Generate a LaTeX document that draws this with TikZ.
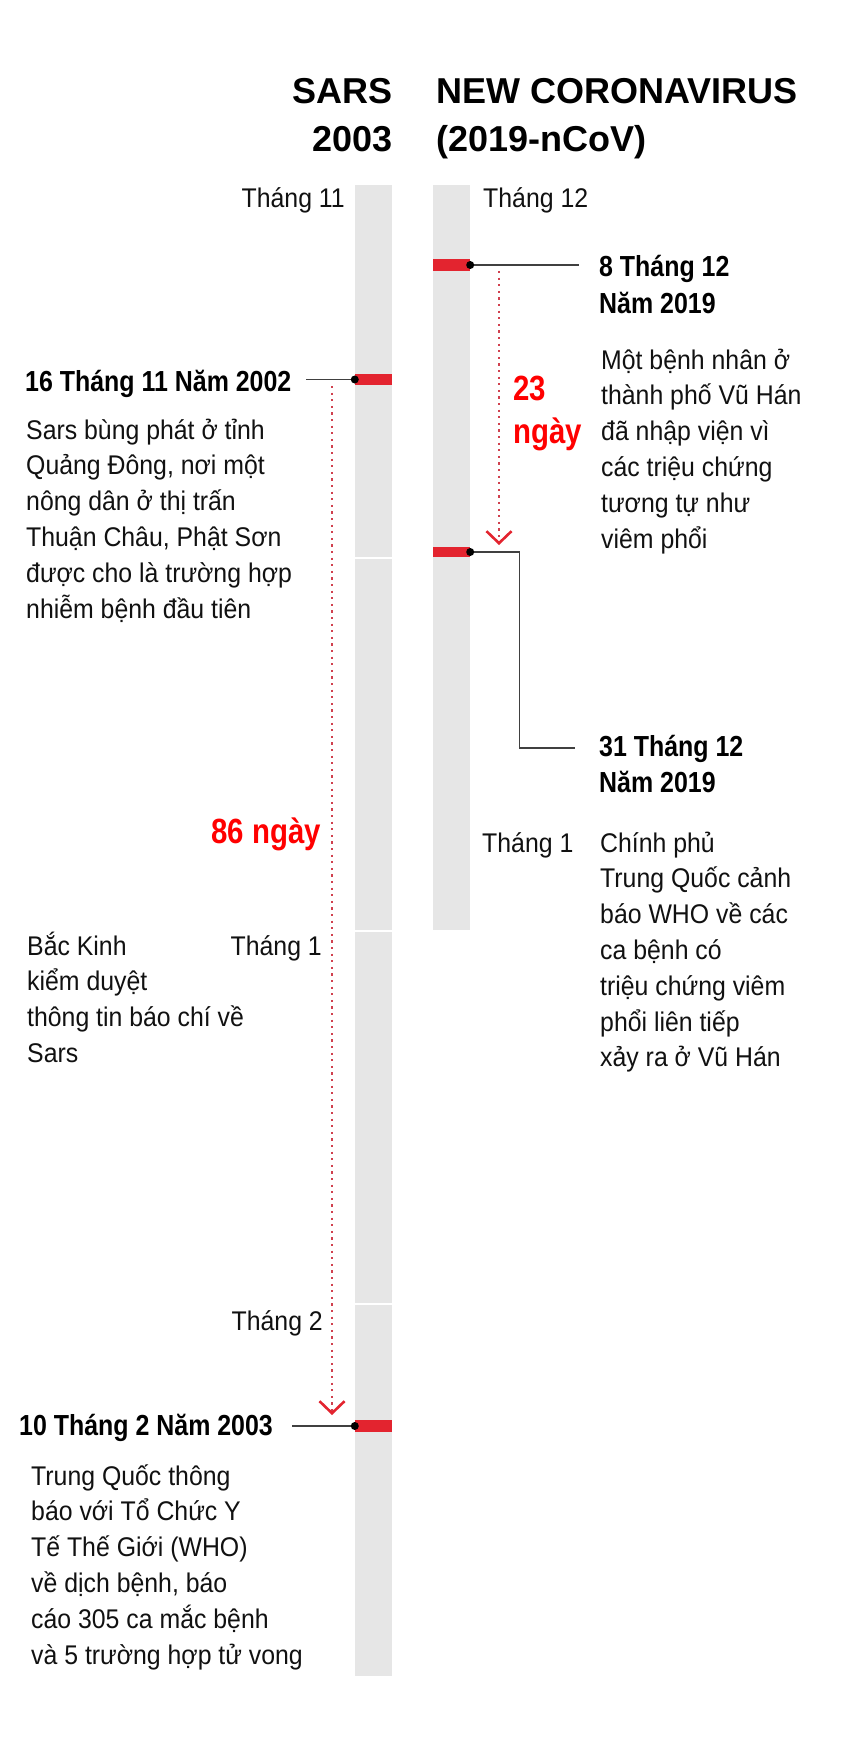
\documentclass[tikz,border=0pt]{standalone}
\usepackage{fontspec}
\setmainfont{Liberation Sans}[FakeStretch=0.92]
\newfontfamily\datefont{Liberation Sans}[FakeStretch=0.86]
\newfontfamily\dayfont{Liberation Sans}[FakeStretch=0.84]
\newfontfamily\titlefont{Liberation Sans}
\usepackage{xcolor}
\usetikzlibrary{arrows.meta}

\definecolor{barGray}{HTML}{E6E6E6}
\definecolor{tagRed}{HTML}{E3242F}
\definecolor{gapRed}{HTML}{D0404E}
\definecolor{dayRed}{HTML}{FF0000}
\definecolor{inkBlack}{HTML}{111111}

\begin{document}
\begin{tikzpicture}[x=1pt, y=-1pt,
    redtag/.style={rectangle, fill=tagRed, inner sep=0pt, minimum width=37pt},
    dot/.style={circle, fill=black, inner sep=0pt, minimum size=8pt},
    lead/.style={draw=black!75, line width=1.1pt},
    gap/.style={draw=gapRed, line width=2.2pt, dash pattern=on 2.2pt off 4.4pt,
      -{Straight Barb[length=12pt, width=25pt, line width=2.6pt, color=tagRed]}},
    title/.style={font=\titlefont\bfseries\fontsize{36}{48}\selectfont, inner sep=0pt, text=black},
    month/.style={font=\fontsize{27}{36}\selectfont, inner sep=0pt, text=inkBlack},
    datelbl/.style={font=\datefont\bfseries\fontsize{29}{36}\selectfont, inner sep=0pt, align=left, text=black},
    body/.style={font=\fontsize{27}{35.8}\selectfont, inner sep=0pt, align=left, text=inkBlack},
    days/.style={font=\dayfont\bfseries\fontsize{35}{43}\selectfont, inner sep=0pt, text=dayRed}
  ]
  \useasboundingbox[fill=white] (0,0) rectangle (840,1760);

  % headings (base = last line)
  \node[title, anchor=base east, align=right] (hsars) at (393,152) {SARS\\2003};
  \node[title, anchor=base west, align=left] (hncov) at (436,152) {NEW CORONAVIRUS\\(2019-nCoV)};

  % time bars (one segment per month on the left)
  \foreach \ya/\yb in {185/557, 559/930, 932/1303, 1305/1676}
    \fill[barGray] (355,\ya) rectangle (392,\yb);
  \fill[barGray] (433,185) rectangle (470,930);

  % month labels
  \node[month, anchor=base east] (nov) at (345,208) {Tháng 11};
  \node[month, anchor=base east] (jan) at (322,955) {Tháng 1};
  \node[month, anchor=base east] (feb) at (323,1330) {Tháng 2};
  \node[month, anchor=base west] (dec2) at (483,208) {Tháng 12};
  \node[month, anchor=base west] (jan2) at (482,852) {Tháng 1};

  % red markers on the bars
  \node[redtag, minimum height=11pt] (m16nov) at (373.5,379.5) {};
  \node[redtag, minimum height=12pt] (m10feb) at (373.5,1426) {};
  \node[redtag, minimum height=12pt] (m8dec) at (451.5,265) {};
  \node[redtag, minimum height=10pt] (m31dec) at (451.5,552) {};

  % leader lines
  \coordinate (l16nov) at (306,379.5);
  \coordinate (l10feb) at (292,1426);
  \coordinate (l8dec) at (579,265);
  \coordinate (l31dec) at (575,748);
  \draw[lead] (l16nov) -- (m16nov.west);
  \draw[lead] (l10feb) -- (m10feb.west);
  \draw[lead] (m8dec.east) -- (l8dec);
  \draw[lead] (m31dec.east) -- ++(49,0) |- (l31dec);
  \foreach \m/\s in {m16nov/west, m10feb/west, m8dec/east, m31dec/east}
    \node[dot] at (\m.\s) {};

  % day gaps
  \coordinate (g86a) at (332,386);
  \coordinate (g86b) at (332,1415);
  \coordinate (g23a) at (499,271);
  \coordinate (g23b) at (499,545);
  \draw[gap] (g86a) -- (g86b);
  \draw[gap] (g23a) -- (g23b);
  \node[days, anchor=base east] (d86) at (321,843) {86 ngày};
  \node[days, anchor=base west, align=left] (d23) at (513,443) {23\\ngày};

  % SARS events
  \node[datelbl, anchor=base west] (e16nov) at (25,391) {16 Tháng 11 Năm 2002};
  \node[body, anchor=base west] (t16nov) at (26,618)
    {Sars bùng phát ở tỉnh\\Quảng Đông, nơi một\\nông dân ở thị trấn\\Thuận Châu, Phật Sơn\\được cho là trường hợp\\nhiễm bệnh đầu tiên};
  \node[body, anchor=base west] (tbk) at (27,1062.4)
    {Bắc Kinh\\kiểm duyệt\\thông tin báo chí về\\Sars};
  \node[datelbl, anchor=base west] (e10feb) at (19,1435) {10 Tháng 2 Năm 2003};
  \node[body, anchor=base west] (t10feb) at (31,1664)
    {Trung Quốc thông\\báo với Tổ Chức Y\\Tế Thế Giới (WHO)\\về dịch bệnh, báo\\cáo 305 ca mắc bệnh\\và 5 trường hợp tử vong};

  % nCoV events
  \node[datelbl, anchor=base west] (e8dec) at (599,313) {8 Tháng 12\\Năm 2019};
  \node[body, anchor=base west] (t8dec) at (601,548)
    {Một bệnh nhân ở\\thành phố Vũ Hán\\đã nhập viện vì\\các triệu chứng\\tương tự như\\viêm phổi};
  \node[datelbl, anchor=base west] (e31dec) at (599,792) {31 Tháng 12\\Năm 2019};
  \node[body, anchor=base west] (t31dec) at (600,1066.8)
    {Chính phủ\\Trung Quốc cảnh\\báo WHO về các\\ca bệnh có\\triệu chứng viêm\\phổi liên tiếp\\xảy ra ở Vũ Hán};
\end{tikzpicture}
\end{document}
